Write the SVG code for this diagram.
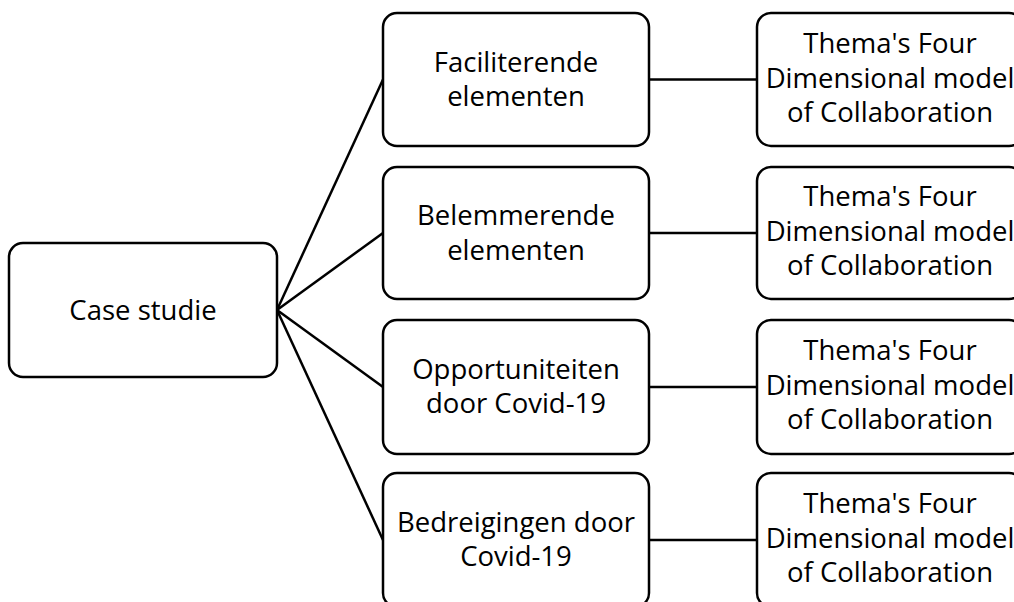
<svg xmlns="http://www.w3.org/2000/svg" width="1014" height="602" viewBox="0 0 1014 602">
  <style>
    .box { fill: #ffffff; stroke: #000000; stroke-width: 2.5; }
    .lbl { font-family: "Open Sans", "Liberation Sans", sans-serif; font-size: 27.5px; fill: #000000; text-anchor: middle; }
    .edge { stroke: #000000; stroke-width: 2.5; fill: none; }
  </style>
  <rect width="1014" height="602" fill="#ffffff"/>

  <!-- connectors -->
  <g id="connectors">
    <line class="edge" x1="277" y1="310" x2="383" y2="79.5"/>
    <line class="edge" x1="277" y1="310" x2="383" y2="233"/>
    <line class="edge" x1="277" y1="310" x2="383" y2="387"/>
    <line class="edge" x1="277" y1="310" x2="383" y2="540"/>
    <line class="edge" x1="649" y1="79.5" x2="757" y2="79.5"/>
    <line class="edge" x1="649" y1="233" x2="757" y2="233"/>
    <line class="edge" x1="649" y1="387" x2="757" y2="387"/>
    <line class="edge" x1="649" y1="540" x2="757" y2="540"/>
  </g>

  <!-- root -->
  <g id="case-studie">
    <rect class="box" x="9" y="243" width="268" height="134" rx="14"/>
    <text class="lbl" x="143" y="319.5">Case studie</text>
  </g>

  <!-- middle column -->
  <g id="faciliterende">
    <rect class="box" x="383" y="13" width="266" height="133" rx="14"/>
    <text class="lbl" x="516" y="72">Faciliterende</text>
    <text class="lbl" x="516" y="106">elementen</text>
  </g>
  <g id="belemmerende">
    <rect class="box" x="383" y="167" width="266" height="132" rx="14"/>
    <text class="lbl" x="516" y="225">Belemmerende</text>
    <text class="lbl" x="516" y="259.5">elementen</text>
  </g>
  <g id="opportuniteiten">
    <rect class="box" x="383" y="320" width="266" height="134" rx="14"/>
    <text class="lbl" x="516" y="378.5">Opportuniteiten</text>
    <text class="lbl" x="516" y="413">door Covid-19</text>
  </g>
  <g id="bedreigingen">
    <rect class="box" x="383" y="473" width="266" height="134" rx="14"/>
    <text class="lbl" x="516" y="531.5">Bedreigingen door</text>
    <text class="lbl" x="516" y="566">Covid-19</text>
  </g>

  <!-- right column -->
  <g id="model-1">
    <rect class="box" x="757" y="13" width="266" height="133" rx="14"/>
    <text class="lbl" x="890" y="53">Thema's Four</text>
    <text class="lbl" x="890" y="87.5">Dimensional model</text>
    <text class="lbl" x="890" y="122">of Collaboration</text>
  </g>
  <g id="model-2">
    <rect class="box" x="757" y="167" width="266" height="132" rx="14"/>
    <text class="lbl" x="890" y="206">Thema's Four</text>
    <text class="lbl" x="890" y="240.5">Dimensional model</text>
    <text class="lbl" x="890" y="275">of Collaboration</text>
  </g>
  <g id="model-3">
    <rect class="box" x="757" y="320" width="266" height="134" rx="14"/>
    <text class="lbl" x="890" y="360">Thema's Four</text>
    <text class="lbl" x="890" y="394.5">Dimensional model</text>
    <text class="lbl" x="890" y="429">of Collaboration</text>
  </g>
  <g id="model-4">
    <rect class="box" x="757" y="473" width="266" height="134" rx="14"/>
    <text class="lbl" x="890" y="513">Thema's Four</text>
    <text class="lbl" x="890" y="547.5">Dimensional model</text>
    <text class="lbl" x="890" y="582">of Collaboration</text>
  </g>
</svg>
